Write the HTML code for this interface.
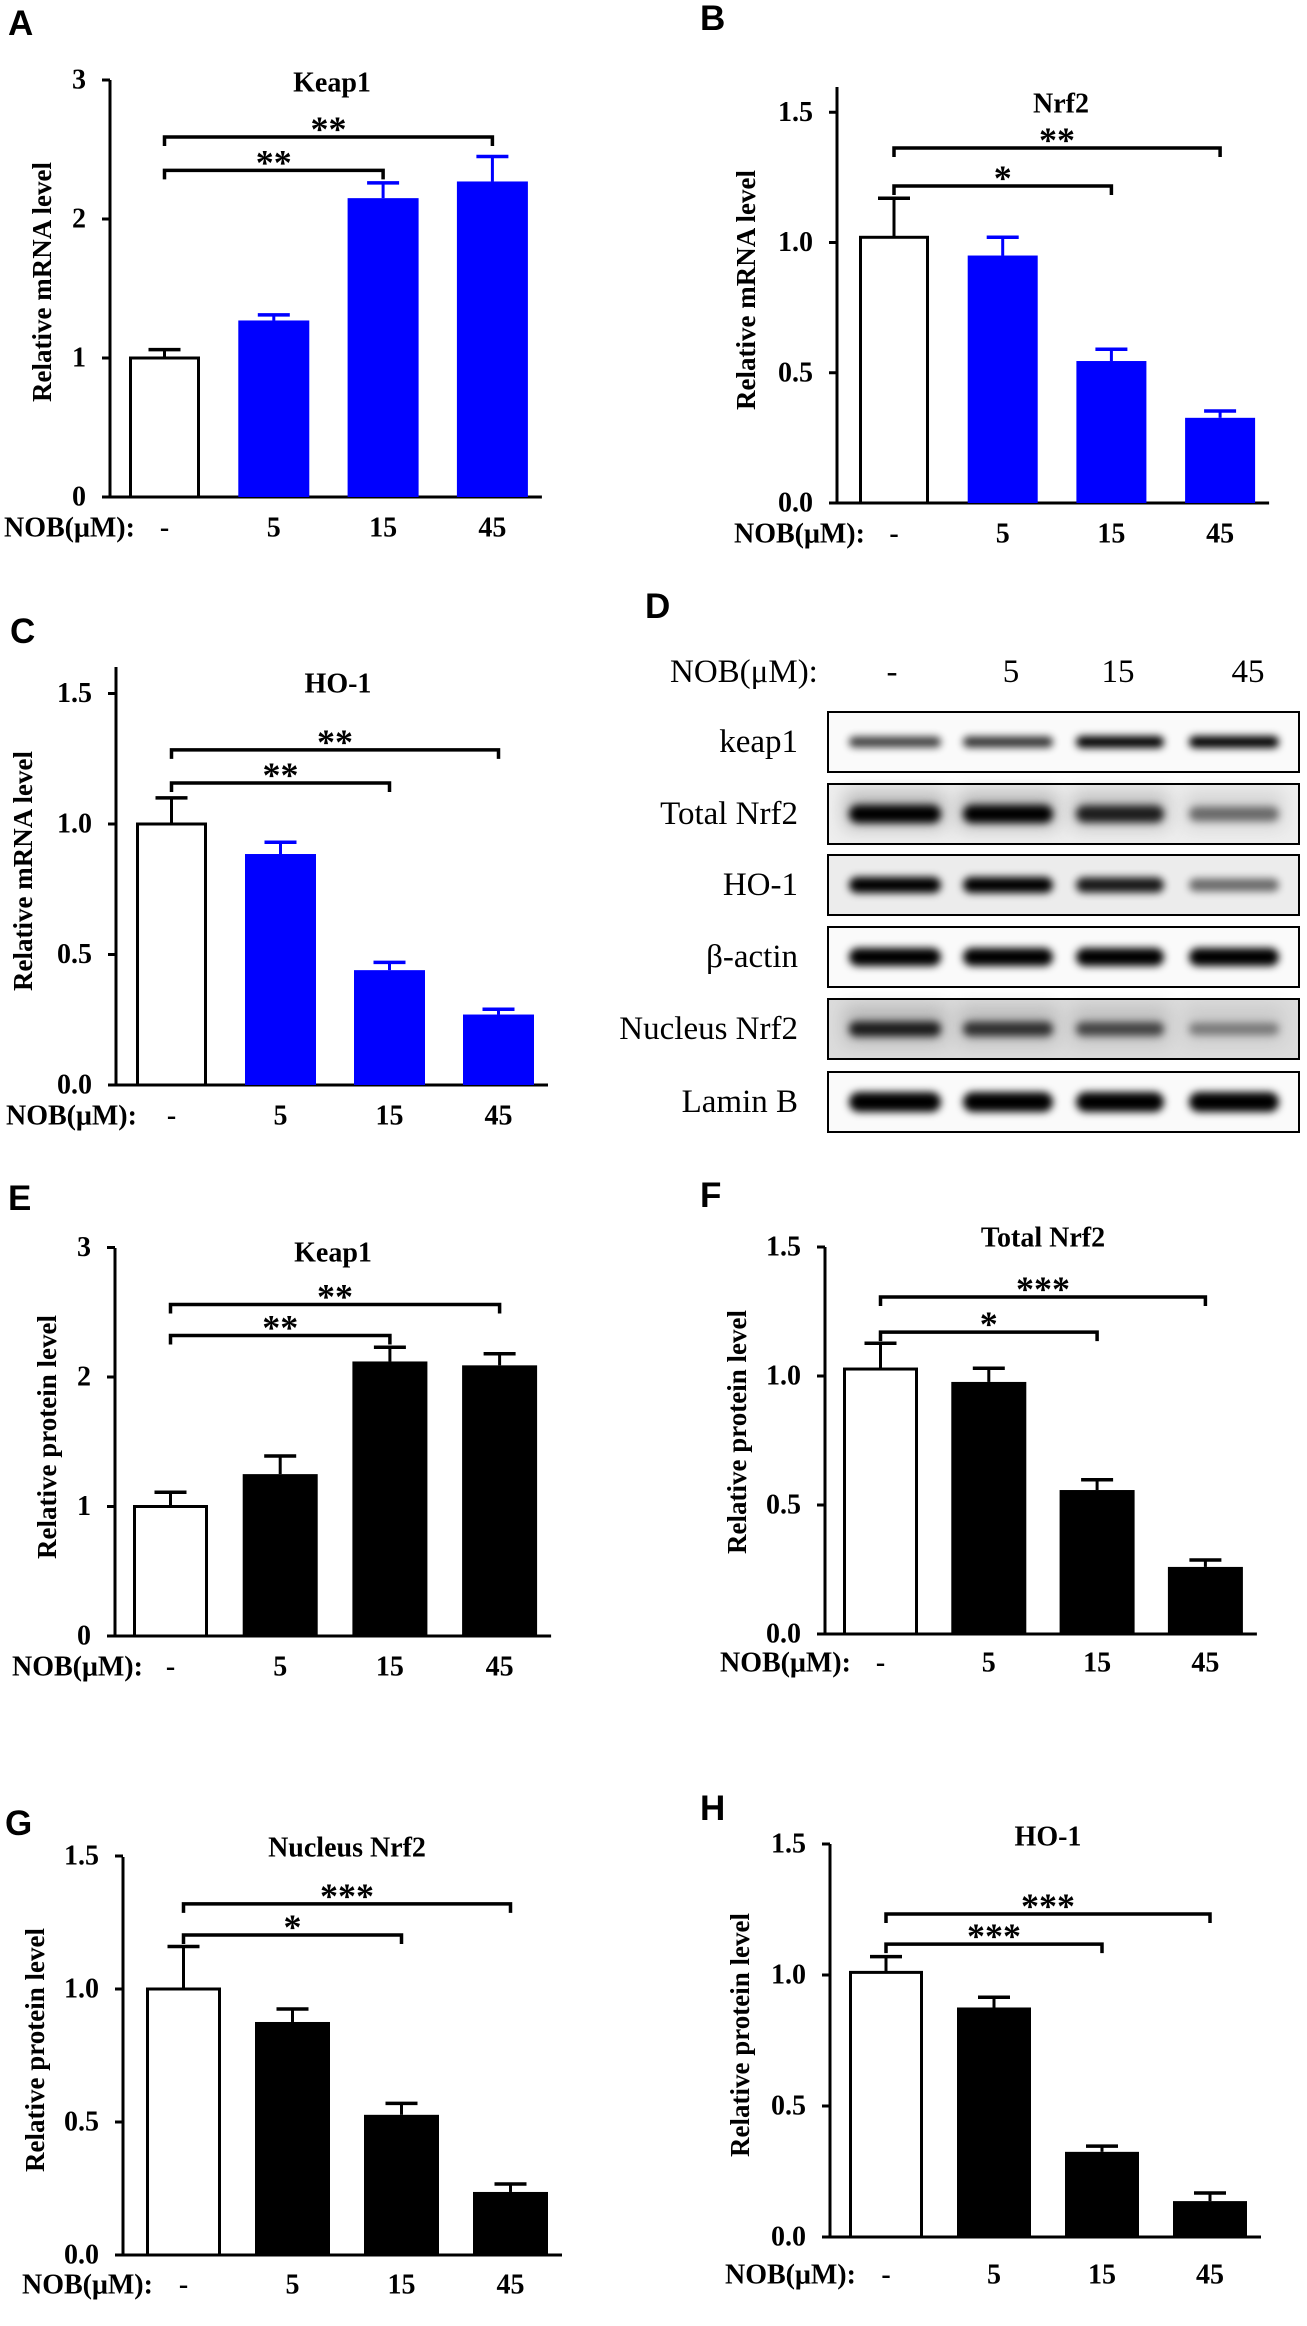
<!DOCTYPE html>
<html><head><meta charset="utf-8"><style>
html,body{margin:0;padding:0;background:#fff;}
svg{display:block;font-family:"Liberation Serif","Times New Roman",serif;}
.lt{font-family:"Liberation Sans",Arial,sans-serif;font-weight:bold;font-size:35px;}
.b{font-weight:bold;}
</style></head><body>
<svg id="fig" width="1307" height="2326" viewBox="0 0 1307 2326" xmlns="http://www.w3.org/2000/svg">
<defs>
<filter id="blur4" x="-20%" y="-100%" width="140%" height="300%"><feGaussianBlur stdDeviation="4"/></filter>
<filter id="blur8" x="-20%" y="-100%" width="140%" height="300%"><feGaussianBlur stdDeviation="9"/></filter>
</defs>
<text class="lt" x="8" y="35">A</text>
<text class="lt" x="700" y="30">B</text>
<text class="lt" x="10" y="643">C</text>
<text class="lt" x="645" y="618">D</text>
<text class="lt" x="8" y="1210">E</text>
<text class="lt" x="700" y="1207">F</text>
<text class="lt" x="5" y="1835">G</text>
<text class="lt" x="700" y="1820">H</text>
<g id="charts"></g>
<g id="blot"></g>
</svg>
<script>
const categories = ['-', '5', '15', '45'];
const aValues = [1.0, 1.27, 2.15, 2.27];
const aErrors = [0.06, 0.04, 0.11, 0.18];
const bValues = [1.02, 0.95, 0.545, 0.327];
const bErrors = [0.15, 0.07, 0.045, 0.026];
const cValues = [1.0, 0.885, 0.44, 0.27];
const cErrors = [0.10, 0.045, 0.03, 0.02];
const eValues = [1.0, 1.25, 2.12, 2.09];
const eErrors = [0.11, 0.14, 0.11, 0.09];
const fValues = [1.027, 0.977, 0.558, 0.26];
const fErrors = [0.10, 0.053, 0.04, 0.027];
const gValues = [1.0, 0.876, 0.527, 0.237];
const gErrors = [0.16, 0.049, 0.043, 0.03];
const hValues = [1.01, 0.876, 0.325, 0.137];
const hErrors = [0.06, 0.039, 0.022, 0.031];
const ticks3 = [0, 1, 2, 3];
const ticks15 = [0, 0.5, 1.0, 1.5];
const aSig = [['**', 2, 2.35], ['**', 3, 2.59]];
const bSig = [['*', 2, 1.217], ['**', 3, 1.363]];
const cSig = [['**', 2, 1.157], ['**', 3, 1.284]];
const eSig = [['**', 2, 2.32], ['**', 3, 2.56]];
const fSig = [['*', 2, 1.17], ['***', 3, 1.306]];
const gSig = [['*', 2, 1.203], ['***', 3, 1.32]];
const hSig = [['***', 2, 1.118], ['***', 3, 1.233]];

const NS = 'http://www.w3.org/2000/svg';
function mk(parent, tag, attrs) {
  const e = document.createElementNS(NS, tag);
  for (const k in attrs) e.setAttribute(k, attrs[k]);
  parent.appendChild(e);
  return e;
}

function drawChart(p) {
  const g = mk(document.getElementById('charts'), 'g', {});
  
  
  const ys = v => p.y0 - v * p.ppu;
  const xl = i => p.left + i * p.pitch;
  const xc = i => xl(i) + p.w / 2;
  const lastRight = xl(categories.length - 1) + p.w;
  // axes
  const ya = mk(g, 'line', {x1: p.ax, y1: p.top, x2: p.ax, y2: p.y0 + 1.5, stroke: '#000', 'stroke-width': 3});
  
  
  const xa = mk(g, 'line', {x1: p.ax - 8, y1: p.y0, x2: lastRight + 14, y2: p.y0, stroke: '#000', 'stroke-width': 3});
  
  
  p.ticks.forEach(t => {
    const y = ys(t);
    mk(g, 'line', {x1: p.ax - 8, y1: y, x2: p.ax, y2: y, stroke: '#000', 'stroke-width': 3});
    const tl = mk(g, 'text', {x: p.ax - 24, y: y, 'text-anchor': 'end', 'dominant-baseline': 'central', 'font-size': 28, 'font-weight': 'bold'});
    tl.textContent = p.dec ? t.toFixed(1) : String(t);
    
    
  });
  // y title
  const yt = mk(g, 'text', {x: p.ylx, y: p.yly, 'text-anchor': 'middle', 'dominant-baseline': 'central', 'font-size': 27, 'font-weight': 'bold', transform: 'rotate(-90 ' + p.ylx + ' ' + p.yly + ')'});
  yt.textContent = p.ylabel;
  
  
  // chart title
  const ti = mk(g, 'text', {x: p.tx, y: p.ty, 'text-anchor': 'middle', 'dominant-baseline': 'central', 'font-size': 28, 'font-weight': 'bold'});
  ti.textContent = p.title;
  
  
  // bars
  p.values.forEach((v, i) => {
    const col = i === 0 ? '#000' : p.color;
    const top = ys(v), et = ys(v + p.errors[i]);
    const ev = mk(g, 'line', {x1: xc(i), y1: top, x2: xc(i), y2: et, stroke: col, 'stroke-width': 3});
    
    
    mk(g, 'line', {x1: xc(i) - 16, y1: et, x2: xc(i) + 16, y2: et, stroke: col, 'stroke-width': 3.5});
    let r;
    if (i === 0) {
      r = mk(g, 'rect', {x: xl(i) + 1.5, y: top, width: p.w - 3, height: p.y0 - top, fill: '#fff', stroke: '#000', 'stroke-width': 3});
    } else {
      r = mk(g, 'rect', {x: xl(i), y: top, width: p.w, height: p.y0 - top, fill: p.color});
    }
    
    
    const cl = mk(g, 'text', {x: xc(i), y: p.ny, 'text-anchor': 'middle', 'dominant-baseline': 'central', 'font-size': 28, 'font-weight': 'bold'});
    cl.textContent = categories[i];
    
    
  });
  const nl = mk(g, 'text', {x: p.nx, y: p.ny, 'dominant-baseline': 'central', 'font-size': 28, 'font-weight': 'bold'});
  nl.textContent = 'NOB(\u03bcM):';
  
  
  // significance brackets
  p.sig.forEach(s => {
    const y = ys(s[2]), x1 = xc(0), x2 = xc(s[1]);
    const br = mk(g, 'path', {d: 'M' + x1 + ' ' + (y + 9) + 'V' + y + 'H' + x2 + 'V' + (y + 9), fill: 'none', stroke: '#000', 'stroke-width': 3.5});
    
    
    const st = mk(g, 'text', {x: (x1 + x2) / 2, y: y + 4, 'text-anchor': 'middle', 'font-size': 36, 'font-weight': 'bold'});
    st.textContent = s[0];
    
    
  });
}

const BLUE = '#0000ff';
drawChart({id: 'a', ax: 110, top: 80, y0: 497, ppu: 139, left: 129, pitch: 109.3, w: 71, ticks: ticks3, dec: false, values: aValues, errors: aErrors, color: BLUE, sig: aSig, title: 'Keap1', tx: 332, ty: 83, ylabel: 'Relative mRNA level', ylx: 42, yly: 282, nx: 4, ny: 528});
drawChart({id: 'b', ax: 837, top: 87, y0: 503, ppu: 260.5, left: 859, pitch: 108.7, w: 70, ticks: ticks15, dec: true, values: bValues, errors: bErrors, color: BLUE, sig: bSig, title: 'Nrf2', tx: 1061, ty: 104, ylabel: 'Relative mRNA level', ylx: 746, yly: 290, nx: 734, ny: 534});
drawChart({id: 'c', ax: 116, top: 667, y0: 1085, ppu: 261, left: 136, pitch: 109, w: 71, ticks: ticks15, dec: true, values: cValues, errors: cErrors, color: BLUE, sig: cSig, title: 'HO-1', tx: 338, ty: 684, ylabel: 'Relative mRNA level', ylx: 23, yly: 871, nx: 6, ny: 1116});
drawChart({id: 'e', ax: 115, top: 1248, y0: 1636, ppu: 129.5, left: 133, pitch: 109.7, w: 75, ticks: ticks3, dec: false, values: eValues, errors: eErrors, color: '#000', sig: eSig, title: 'Keap1', tx: 333, ty: 1253, ylabel: 'Relative protein level', ylx: 47, yly: 1437, nx: 12, ny: 1667});
drawChart({id: 'f', ax: 825, top: 1247, y0: 1634, ppu: 258, left: 843, pitch: 108.3, w: 75, ticks: ticks15, dec: true, values: fValues, errors: fErrors, color: '#000', sig: fSig, title: 'Total Nrf2', tx: 1043, ty: 1238, ylabel: 'Relative protein level', ylx: 737, yly: 1432, nx: 720, ny: 1663});
drawChart({id: 'g', ax: 123, top: 1857, y0: 2255, ppu: 266, left: 146, pitch: 109, w: 75, ticks: ticks15, dec: true, values: gValues, errors: gErrors, color: '#000', sig: gSig, title: 'Nucleus Nrf2', tx: 347, ty: 1848, ylabel: 'Relative protein level', ylx: 35, yly: 2050, nx: 22, ny: 2285});
drawChart({id: 'h', ax: 830, top: 1844, y0: 2237, ppu: 262, left: 849, pitch: 108, w: 74, ticks: ticks15, dec: true, values: hValues, errors: hErrors, color: '#000', sig: hSig, title: 'HO-1', tx: 1048, ty: 1837, ylabel: 'Relative protein level', ylx: 740, yly: 2035, nx: 725, ny: 2275});

// ---- Western blot ----
const blotLabels = ['keap1', 'Total Nrf2', 'HO-1', '\u03b2-actin', 'Nucleus Nrf2', 'Lamin B'];
const blotTops = [712, 784, 855, 927, 999, 1072];
const bandIntensity = [
  [0.75, 0.8, 1.0, 1.0],
  [1.0, 1.0, 0.85, 0.5],
  [1.0, 1.0, 0.9, 0.55],
  [1.0, 1.0, 1.0, 1.0],
  [0.85, 0.75, 0.65, 0.4],
  [1.0, 1.0, 1.0, 1.0]
];
const bandThick = [12, 18, 16, 18, 16, 20];
const laneCenters = [895, 1008, 1120, 1234];
const laneWidths = [100, 98, 96, 98];
const blotBg = ['#fafafa', '#eeeeee', '#ececec', '#fafafa', '#dcdcdc', '#fafafa'];
(function () {
  const g = document.getElementById('blot');
  const hdr = mk(g, 'text', {x: 670, y: 682, 'font-size': 33});
  hdr.textContent = 'NOB(\u03bcM):';
  
  
  const laneLbl = [892, 1011, 1118, 1248];
  categories.forEach((c, i) => {
    const t = mk(g, 'text', {x: laneLbl[i], y: 682, 'text-anchor': 'middle', 'font-size': 33});
    t.textContent = c;
    
    
  });
  blotLabels.forEach((lab, r) => {
    const top = blotTops[r], cy = top + 30;
    const row = mk(g, 'g', {});
    
    
    mk(row, 'rect', {x: 828, y: top, width: 471, height: 60, fill: blotBg[r]});
    if (r === 4 || r === 1) {
      laneCenters.forEach((x, i) => {
        mk(row, 'rect', {x: x - laneWidths[i] / 2, y: top + 8, width: laneWidths[i], height: 36, fill: '#777', opacity: 0.45 * bandIntensity[r][i], filter: 'url(#blur8)'});
      });
    }
    laneCenters.forEach((x, i) => {
      const a = bandIntensity[r][i];
      const hh = bandThick[r] * (0.6 + 0.4 * a);
      const b = mk(row, 'rect', {x: x - laneWidths[i] / 2 + 4, y: cy - hh / 2, width: laneWidths[i] - 8, height: hh, rx: hh / 2, fill: '#000', opacity: a, filter: 'url(#blur4)'});
      
      
    });
    mk(row, 'rect', {x: 828, y: top, width: 471, height: 60, fill: 'none', stroke: '#000', 'stroke-width': 2});
    const t = mk(row, 'text', {x: 798, y: cy, 'text-anchor': 'end', 'dominant-baseline': 'central', 'font-size': 33});
    t.textContent = lab;
    
    
  });
})();
</script>
</body></html>
